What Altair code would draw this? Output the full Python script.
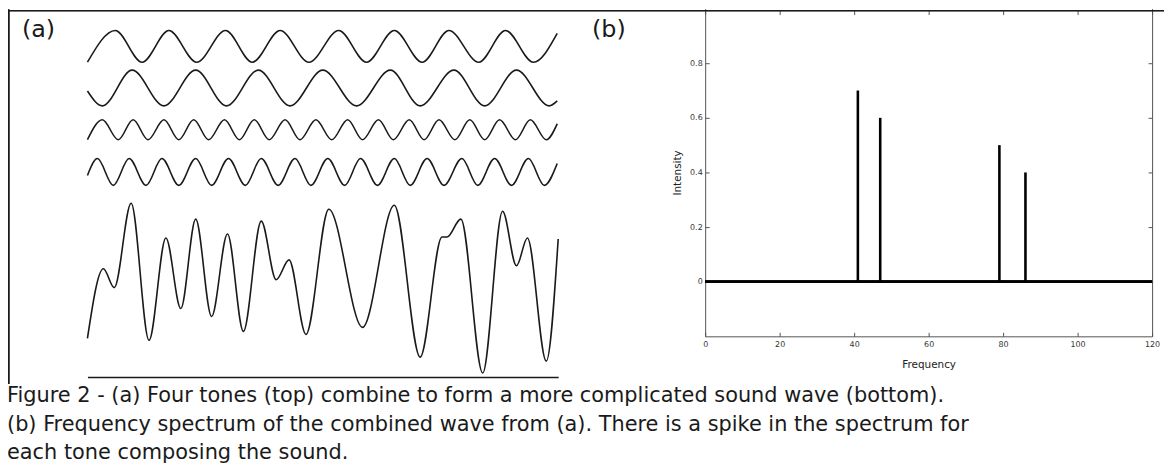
import altair as alt
import pandas as pd

# ---------------- (a) four tones: extrema ----------------
# x = horizontal sample position, amp = displacement from each trace's centre line
tone1_x = [88, 116, 143, 170, 198, 227, 254, 282, 311, 341, 369, 397, 425, 452, 482, 509, 537, 561]
tone1_amp = [-16, 16, -16, 16, -16, 16, -16, 16, -16, 16, -16, 16, -16, 16, -16, 16, -16, 13]

tone2_x = [88, 103, 133, 165, 197, 228, 260, 292, 325, 359, 393, 423, 457, 488, 520, 553, 561]
tone2_amp = [-3, -18, 18, -18, 18, -18, 18, -18, 18, -18, 18, -18, 18, -18, 18, -18, -13]

tone3_x = [88, 103, 119, 134, 149, 165, 180, 195, 210, 226, 241, 256, 271, 287, 302, 318,
           334, 350, 365, 381, 396, 412, 427, 442, 458, 473, 488, 503, 519, 534, 550, 561]
tone3_amp = [-10, 10, -10, 10, -10, 10, -10, 10, -10, 10, -10, 10, -10, 10, -10, 10,
             -10, 10, -10, 10, -10, 10, -10, 10, -10, 10, -10, 10, -10, 10, -10, 6]

tone4_x = [88, 98, 114, 130, 147, 163, 180, 197, 213, 230, 247, 263, 280, 297, 313,
           330, 347, 363, 380, 397, 413, 430, 447, 465, 481, 498, 515, 532, 548, 561]
tone4_amp = [-3.5, 13.5, -13.5, 13.5, -13.5, 13.5, -13.5, 13.5, -13.5, 13.5, -13.5, 13.5, -13.5, 13.5, -13.5,
             13.5, -13.5, 13.5, -13.5, 13.5, -13.5, 13.5, -13.5, 13.5, -13.5, 13.5, -13.5, 13.5, -13.5, 8.5]

combined_x = [88, 104, 115, 132, 150, 167, 182, 197, 213, 229, 245, 263, 278, 291, 308, 331,
              365, 397, 423, 445, 450, 464, 486, 506, 520, 531, 550, 562]
combined_amp = [-51, 19, 0, 85, -53, 50, -21, 69, -29, 54, -44, 67, 8, 28, -47, 79,
                -40, 83, -70, 51, 51, 69, -86, 77, 22, 50, -74, 49]

# ---------------- (b) spectrum ----------------
freq = [41, 47, 79, 86]
intensity = [0.70, 0.60, 0.50, 0.40]
freq_ticks = [0, 20, 40, 60, 80, 100, 120]
intensity_ticks = [0, 0.2, 0.4, 0.6, 0.8]

panel_labels = ["(a)", "(b)"]
caption_lines = [
    "Figure 2 - (a) Four tones (top) combine to form a more complicated sound wave (bottom).",
    "(b) Frequency spectrum of the combined wave from (a).  There is a spike in the spectrum for",
    "each tone composing the sound.",
]

W, H = 1164, 460
INK = "#1a1a1a"
AX = "#555555"
FONT = "DejaVu Sans"

wave_x_scale = alt.Scale(domain=[88, 562], range=[80, 554], nice=False, zero=False)


def wave(xs, amps, centre, x_axis=None):
    df = pd.DataFrame({"x": xs, "amp": amps})
    if x_axis is not None:
        xenc = alt.X("x:Q", scale=wave_x_scale, axis=x_axis)
    else:
        xenc = alt.X("x:Q", scale=wave_x_scale, axis=None)
    return alt.Chart(df).mark_line(interpolate="monotone", color=INK, strokeWidth=1.6).encode(
        x=xenc,
        y=alt.Y("amp:Q", scale=alt.Scale(domain=[-100, 100], range=[centre + 100, centre - 100],
                                         nice=False, zero=False), axis=None),
    )


base_axis = alt.Axis(orient="bottom", offset=-90, labels=False, ticks=False, tickSize=0,
                     domain=True, domainColor=INK, domainWidth=1.4, grid=False, title="")

w1 = wave(tone1_x, tone1_amp, 37)
w2 = wave(tone2_x, tone2_amp, 79)
w3 = wave(tone3_x, tone3_amp, 121)
w4 = wave(tone4_x, tone4_amp, 163.5)
wc = wave(combined_x, combined_amp, 280, x_axis=base_axis)

# spectrum
fx = alt.Scale(domain=[0, 120], range=[702, 1152], nice=False, zero=False)
fy = alt.Scale(domain=[-0.2, 1.0], range=[329, -1], nice=False, zero=False)
spec_df = pd.DataFrame({"freq": freq, "intensity": intensity})

spikes = alt.Chart(spec_df).mark_rule(color="black", strokeWidth=2.6).encode(
    x=alt.X("freq:Q", scale=fx, axis=alt.Axis(
        orient="bottom", offset=-131, values=freq_ticks, ticks=False, tickSize=0, labelPadding=4,
        labelFlush=False, labelOverlap=False, domain=True, domainColor=AX, domainWidth=1,
        grid=False, title="Frequency", titlePadding=11, labelFontSize=8, titleFontSize=10.5)),
    y=alt.Y("intensity:Q", scale=fy, axis=alt.Axis(
        orient="left", offset=-702, values=intensity_ticks, format=".1~f", ticks=False, tickSize=0,
        labelPadding=3, labelFlush=False, labelOverlap=False, domain=True, domainColor=AX,
        domainWidth=1, grid=False, title="Intensity", titlePadding=7, labelFontSize=8,
        titleFontSize=10.5)),
    y2=alt.datum(0),
)

zero_line = alt.Chart(spec_df).mark_rule(color="black", strokeWidth=2.2).encode(
    x=alt.XDatum(0, type="quantitative", scale=fx, axis=None),
    x2=alt.datum(120),
    y=alt.YDatum(0, type="quantitative", scale=fy, axis=None),
)

ticks_in = alt.Chart(spec_df).mark_point(opacity=0).encode(
    x=alt.X("freq:Q", scale=fx, axis=alt.Axis(
        orient="top", offset=-329, values=freq_ticks, labels=False, tickSize=4, tickColor=AX,
        domain=False, grid=False, title="")),
    y=alt.Y("intensity:Q", scale=fy, axis=alt.Axis(
        orient="right", offset=-(W - 702), values=intensity_ticks, labels=False, tickSize=4,
        tickColor=AX, domain=False, grid=False, title="")),
)

frame = alt.Chart(spec_df).mark_point(opacity=0).encode(
    x=alt.X("freq:Q", scale=fx, axis=alt.Axis(
        orient="bottom", offset=-(H - 1), values=freq_ticks, labels=False, tickSize=4, tickColor=AX,
        domain=False, grid=False, title="")),
    y=alt.Y("intensity:Q", scale=fy, axis=alt.Axis(
        orient="left", offset=-1152, values=intensity_ticks, labels=False, tickSize=4, tickColor=AX,
        domain=True, domainColor=AX, domainWidth=1, grid=False, title="")),
)

# text
cap_df = pd.DataFrame({"line": caption_lines, "row": list(range(len(caption_lines)))})
caption = alt.Chart(cap_df).mark_text(align="left", baseline="alphabetic", font=FONT,
                                       fontSize=21, color=INK).encode(
    x=alt.value(-1),
    y=alt.Y("row:Q", scale=alt.Scale(domain=[0, 2], range=[395, 453], nice=False, zero=False), axis=None),
    text="line:N",
)

lab_a = alt.Chart(pd.DataFrame({"t": [panel_labels[0]]})).mark_text(
    align="left", baseline="alphabetic", font=FONT, fontSize=24, color=INK).encode(
    x=alt.value(14), y=alt.value(28), text="t:N")
lab_b = alt.Chart(pd.DataFrame({"t": [panel_labels[1]]})).mark_text(
    align="left", baseline="alphabetic", font=FONT, fontSize=24, color=INK).encode(
    x=alt.value(588), y=alt.value(28), text="t:N")

top_border = alt.Chart(cap_df).mark_rule(color=INK, strokeWidth=1.4).encode(
    x=alt.value(0), x2=alt.value(W), y=alt.value(1))
left_border = alt.Chart(cap_df).mark_rule(color=INK, strokeWidth=1.4).encode(
    x=alt.value(0.7), y=alt.value(0), y2=alt.value(377))

chart = alt.layer(
    top_border, left_border,
    w1, w2, w3, w4, wc,
    zero_line, spikes, ticks_in, frame,
    lab_a, lab_b, caption,
).resolve_scale(x="independent", y="independent").properties(
    width=W, height=H, autosize=alt.AutoSizeParams(type="none"), padding=0, background="white",
).configure_view(strokeWidth=0).configure_axis(
    labelFont=FONT, titleFont=FONT, titleFontWeight="normal", labelColor="#333", titleColor="#222",
)

chart.save("out.html", embed_options={"renderer": "svg", "actions": False})
